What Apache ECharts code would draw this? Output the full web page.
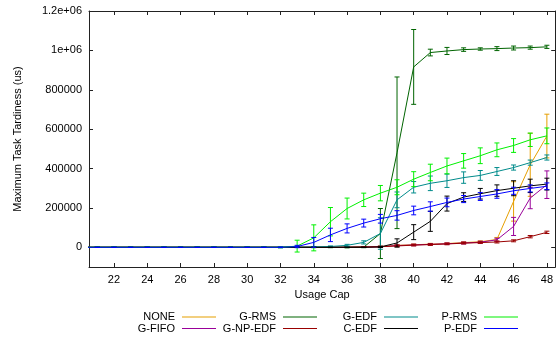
<!DOCTYPE html>
<html>
<head>
<meta charset="utf-8">
<script src="https://cdn.jsdelivr.net/npm/echarts@6/dist/echarts.min.js"></script>
<style>
html,body{margin:0;padding:0;background:#fff;}
#chart{width:556px;height:343px;}
</style>
</head>
<body>
<div id="chart"></div>
<script>
// Usage cap values (x)
var usageCap = [20,21,22,23,24,25,26,27,28,29,30,31,32,33,34,35,36,37,38,39,40,41,42,43,44,45,46,47,48];
var xTicks = [22,24,26,28,30,32,34,36,38,40,42,44,46,48];
var yTicks = [0,200000,400000,600000,800000,1000000,1200000];
var yTickLabels = ['0','200000','400000','600000','800000','1e+06','1.2e+06'];

// Series values (mean) and error (+/-), one entry per usage cap 20..48
var noneVals    = [0,0,0,0,0,0,0,0,0,0,0,0, 0,0,0,0,1000,1500,3000,10000,13000,16000,19000,24000,28000,40000,233000,419000,565000];
var noneErr     = [0,0,0,0,0,0,0,0,0,0,0,0, 1000,1000,1000,1000,1000,1000,2000,4000,4000,4000,4000,5000,5000,10000,100000,160000,111000];
var gfifoVals   = [0,0,0,0,0,0,0,0,0,0,0,0, 0,0,0,0,1000,1500,2500,9000,12000,15000,18000,22000,26000,38000,106000,250000,318000];
var gfifoErr    = [0,0,0,0,0,0,0,0,0,0,0,0, 1000,1000,1000,1000,1000,1000,2000,3000,4000,4000,4000,5000,5000,8000,46000,54000,70000];
var grmsVals    = [0,0,0,0,0,0,0,0,0,0,0,0, 0,0,0,0,0,1000,70000,480000,916000,989000,997000,1004000,1007000,1009000,1012000,1014000,1018000];
var grmsErr     = [0,0,0,0,0,0,0,0,0,0,0,0, 1000,1000,2000,2000,3000,3000,127000,385000,190000,17000,18000,9000,6000,10000,10000,8000,8000];
var gnpedfVals  = [0,0,0,0,0,0,0,0,0,0,0,0, 0,0,0,0,0,1500,3000,7000,11000,14000,17000,21000,24000,27000,33000,54000,76000];
var gnpedfErr   = [0,0,0,0,0,0,0,0,0,0,0,0, 1000,1000,1000,1000,1000,2000,3000,4000,4000,4000,4000,4000,4000,5000,5000,6000,6000];
var gedfVals    = [0,0,0,0,0,0,0,0,0,0,0,0, 0,0,2000,4000,10000,25000,70000,241000,305000,325000,338000,354000,365000,385000,405000,430000,456000];
var gedfErr     = [0,0,0,0,0,0,0,0,0,0,0,0, 1000,1000,2000,3000,5000,8000,80000,40000,29000,37000,34000,29000,25000,20000,13000,13000,13000];
var cedfVals    = [0,0,0,0,0,0,0,0,0,0,0,0, 0,0,0,0,0,0,2000,22000,77000,132000,222000,255000,272000,288000,300000,312000,321000];
var cedfErr     = [0,0,0,0,0,0,0,0,0,0,0,0, 1000,1000,1000,1000,1000,1000,3000,21000,38000,51000,38000,22000,27000,29000,38000,34000,30000];
var prmsVals    = [0,0,0,0,0,0,0,0,0,0,0,0, 0,6000,48000,130000,197000,241000,275000,305000,346000,380000,413000,439000,465000,495000,517000,546000,566000];
var prmsErr     = [0,0,0,0,0,0,0,0,0,0,0,0, 3000,30000,66000,72000,53000,34000,39000,38000,38000,42000,40000,37000,40000,35000,35000,34000,40000];
var pedfVals    = [0,0,0,0,0,0,0,0,0,0,0,0, 0,4000,25000,63000,96000,123000,145000,162000,187000,207000,228000,245000,258000,271000,287000,299000,310000];
var pedfErr     = [0,0,0,0,0,0,0,0,0,0,0,0, 2000,6000,25000,34000,23000,20000,22000,24000,22000,24000,22000,18000,20000,22000,18000,18000,17000];

var seriesNames = ['NONE','G-FIFO','G-RMS','G-NP-EDF','G-EDF','C-EDF','P-RMS','P-EDF'];
var seriesColors = ['#e69f00','#990099','#006400','#990000','#008b8b','#000000','#00f000','#0000ff'];
var seriesVals = [noneVals,gfifoVals,grmsVals,gnpedfVals,gedfVals,cedfVals,prmsVals,pedfVals];
var seriesErrs = [noneErr,gfifoErr,grmsErr,gnpedfErr,gedfErr,cedfErr,prmsErr,pedfErr];

var FONT = 'Liberation Sans, Arial, Helvetica, sans-serif';

function errRender(color){
  return function(params, api){
    var x = api.value(0), y = api.value(1), e = api.value(2);
    var top = api.coord([x, y + e]);
    var bot = api.coord([x, y - e]);
    var c = 2.5;
    var st = {stroke: color, lineWidth: 1};
    return {type:'group', children:[
      {type:'line', shape:{x1:top[0], y1:top[1], x2:bot[0], y2:bot[1]}, style:st},
      {type:'line', shape:{x1:top[0]-c, y1:top[1], x2:top[0]+c, y2:top[1]}, style:st},
      {type:'line', shape:{x1:bot[0]-c, y1:bot[1], x2:bot[0]+c, y2:bot[1]}, style:st}
    ]};
  };
}

var series = [];
for (var i = 0; i < seriesNames.length; i++) {
  var lineData = [];
  for (var j = 0; j < usageCap.length; j++) {
    lineData.push([usageCap[j], seriesVals[i][j]]);
  }
  series.push({
    name: seriesNames[i], type: 'line', data: lineData, clip: true,
    showSymbol: false, symbol: 'none', z: 2 + i,
    lineStyle: {color: seriesColors[i], width: 1},
    itemStyle: {color: seriesColors[i]}
  });
}
for (var i2 = 0; i2 < seriesNames.length; i2++) {
  var errData = [];
  for (var j2 = 0; j2 < usageCap.length; j2++) {
    errData.push([usageCap[j2], seriesVals[i2][j2], seriesErrs[i2][j2]]);
  }
  series.push({
    name: seriesNames[i2] + ' error', type: 'custom', data: errData, clip: true,
    renderItem: errRender(seriesColors[i2]), z: 2 + i2, silent: true,
    itemStyle: {color: seriesColors[i2]}
  });
}

// legend layout: 4 columns x 2 rows, text followed by the line sample
var legendOrder = [['NONE','G-RMS','G-EDF','P-RMS'],['G-FIFO','G-NP-EDF','C-EDF','P-EDF']];
var colRight = [340, 239, 138, 38];
var rowTop = [311.5, 323];
var legends = [];
for (var r = 0; r < 2; r++) {
  for (var cI = 0; cI < 4; cI++) {
    var nm = legendOrder[r][cI];
    var col = seriesColors[seriesNames.indexOf(nm)];
    legends.push({
      data: [{name: nm, icon: 'rect', itemStyle: {color: col, borderWidth: 0}}],
      right: colRight[cI], top: rowTop[r],
      align: 'right', itemWidth: 34, itemHeight: 1,
      padding: 0, selectedMode: false,
      textStyle: {fontFamily: FONT, fontSize: 11, color: '#000', padding: [0, 2, 0, 0]}
    });
  }
}

var axisLineStyle = {color: '#222', width: 1};
var option = {
  animation: false,
  backgroundColor: '#fff',
  grid: {left: 89, top: 11, width: 468, height: 256, containLabel: false},
  legend: legends,
  xAxis: [{
    type: 'value', min: 20.5, max: 48.5, position: 'bottom',
    name: 'Usage Cap', nameLocation: 'middle', nameGap: 22,
    nameTextStyle: {fontFamily: FONT, fontSize: 11, color: '#000'},
    axisLine: {show: true, onZero: false, lineStyle: axisLineStyle},
    axisTick: {show: true, inside: true, length: 4, customValues: xTicks, lineStyle: axisLineStyle},
    axisLabel: {show: true, customValues: xTicks, margin: 7, fontFamily: FONT, fontSize: 11, color: '#000'},
    splitLine: {show: false}
  }, {
    type: 'value', min: 20.5, max: 48.5, position: 'top',
    axisLine: {show: true, onZero: false, lineStyle: axisLineStyle},
    axisTick: {show: true, inside: true, length: 4, customValues: xTicks, lineStyle: axisLineStyle},
    axisLabel: {show: false},
    splitLine: {show: false}
  }],
  yAxis: [{
    type: 'value', min: -100000, max: 1200000, position: 'left',
    name: 'Maximum Task Tardiness (us)', nameLocation: 'middle', nameGap: 66,
    nameTextStyle: {fontFamily: FONT, fontSize: 11, color: '#000'},
    axisLine: {show: true, onZero: false, lineStyle: axisLineStyle},
    axisTick: {show: true, inside: true, length: 4, customValues: yTicks, lineStyle: axisLineStyle},
    axisLabel: {show: true, customValues: yTicks, margin: 7, fontFamily: FONT, fontSize: 11, color: '#000',
      formatter: function(v){ var k = yTicks.indexOf(v); return k >= 0 ? yTickLabels[k] : ''; }},
    splitLine: {show: false}
  }, {
    type: 'value', min: -100000, max: 1200000, position: 'right',
    axisLine: {show: true, onZero: false, lineStyle: axisLineStyle},
    axisTick: {show: true, inside: true, length: 4, customValues: yTicks, lineStyle: axisLineStyle},
    axisLabel: {show: false},
    splitLine: {show: false}
  }],
  series: series
};

var chart = echarts.init(document.getElementById('chart'), null, {renderer: 'canvas'});
chart.setOption(option);
</script>
</body>
</html>
